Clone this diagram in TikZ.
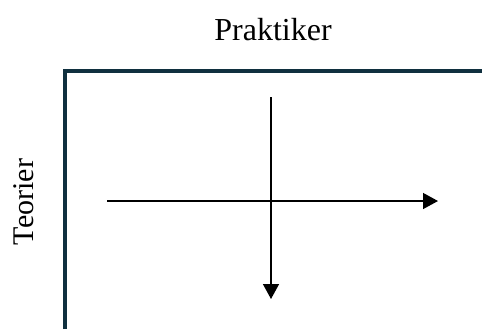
\documentclass[tikz,border=0pt]{standalone}
\usepackage{fontspec}
\setmainfont{Liberation Serif}
\usetikzlibrary{arrows.meta, positioning, calc}
\definecolor{frame}{HTML}{10303F}

\begin{document}
\begin{tikzpicture}[
    x=0.5pt, y=-0.5pt,
    label/.style={font=\fontsize{16}{19}\selectfont, inner sep=0pt},
    axis/.style={draw=frame, line width=1.55pt},
    arrow/.style={-{Triangle[length=7.5pt, width=8pt]}, line width=0.7pt, color=black},
]
    \useasboundingbox (0,0) rectangle (482,329);

    % frame corner
    \coordinate (corner) at (65,71);
    \coordinate (right)  at (482,71);
    \coordinate (bottom) at (65,329);
    \draw[axis] (bottom) -- (corner) -- (right);

    \node[label] (prak) at (273,30) {Praktiker};
    \node[label, rotate=90, font=\fontsize{15}{18}\selectfont] (teor) at (24,202) {Teorier};

    % axes
    \coordinate (hstart) at (107,201);
    \coordinate (hend)   at (438,201);
    \coordinate (vstart) at (271,97);
    \coordinate (vend)   at (271,299);

    \foreach \a/\b in {hstart/hend, vstart/vend}
        \draw[arrow] (\a) -- (\b);
\end{tikzpicture}
\end{document}
